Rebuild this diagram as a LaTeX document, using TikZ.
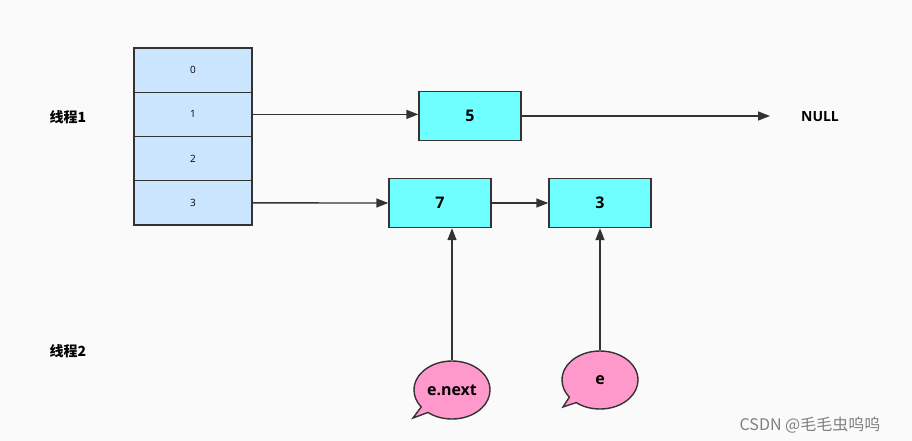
\documentclass[tikz,border=0pt]{standalone}
\usepackage{fontspec}
\setmainfont{Open Sans}
\newfontfamily\cjk{Noto Sans CJK SC}
\usetikzlibrary{arrows.meta,shapes.callouts}

\definecolor{cellblue}{HTML}{CCE5FF}
\definecolor{boxcyan}{HTML}{70FFFF}
\definecolor{bubblepink}{HTML}{FF99CC}
\definecolor{linegray}{HTML}{333333}
\definecolor{bggray}{HTML}{FAFAFA}

\tikzset{
    cell/.style={draw=linegray, line width=1.4pt, fill=cellblue, minimum width=118pt, minimum height=44.25pt, inner sep=0pt, font=\fontsize{10}{10}\selectfont},
    entrybox/.style={draw=linegray, line width=1.4pt, fill=boxcyan, minimum width=102pt, minimum height=49pt, inner sep=0pt, font=\fontsize{16}{16}\selectfont\bfseries},
    bubble/.style={ellipse callout, draw=linegray, line width=1.4pt, fill=bubblepink, minimum width=76pt, minimum height=58pt, inner sep=0pt, font=\fontsize{16}{16}\selectfont\bfseries},
    threadlabel/.style={font=\cjk\fontsize{14}{14}\selectfont\bfseries},
    link/.style={line width=1.4pt, draw=linegray, -{Triangle[length=12pt,width=9pt]}},
}

\begin{document}
\begin{tikzpicture}[x=1pt, y=-1pt]
        \useasboundingbox[fill=bggray] (0, 0) rectangle (912, 441);

        \node[threadlabel] (t1) at (68, 117) {线程1};
        \node[threadlabel] (t2) at (68, 351) {线程2};

        \node[cell] (a0) at (193, 70.1) {0};
        \node[cell] (a1) at (193, 114.4) {1};
        \node[cell] (a2) at (193, 158.6) {2};
        \node[cell] (a3) at (193, 202.9) {3};

        \node[entrybox] (b5) at (470, 116) {5};
        \node[entrybox] (b7) at (440, 203) {7};
        \node[entrybox] (b3) at (600, 203) {3};

        \node[font=\fontsize{14}{14}\selectfont\bfseries] (null) at (820, 117) {NULL};
        \coordinate (nullend) at (770, 116);

        \node[bubble, callout absolute pointer={(413, 418)}] (enext) at (452, 390) {e.next};
        \node[bubble, callout absolute pointer={(563, 407)}] (e) at (600, 380) {e};

        \draw[link] (a1.east) -- (a1.east -| b5.west);
        \draw[link] (b5.east) -- (nullend);
        \draw[link] (a3.east) -- (b7.west);
        \draw[link] (b7.east) -- (b3.west);
        \draw[link] (enext.north) -- (enext.north |- b7.south);
        \draw[link] (e.north) -- (e.north |- b3.south);

        \node[text=gray, font=\cjk\fontsize{16}{16}\selectfont] (mark) at (810, 425) {CSDN @毛毛虫呜呜};

    \end{tikzpicture}
\end{document}
